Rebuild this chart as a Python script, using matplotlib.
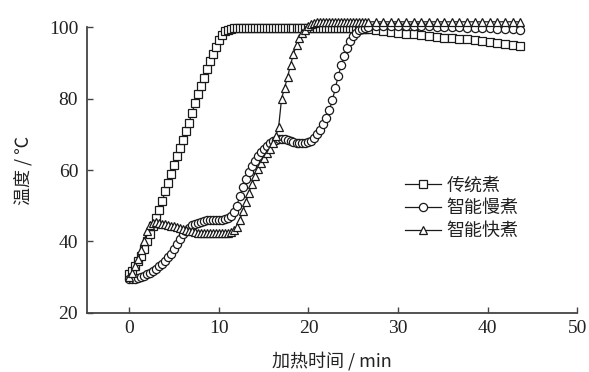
import matplotlib
matplotlib.use("Agg")
import matplotlib.pyplot as plt

plt.rcParams['font.family'] = ['Liberation Serif', 'Noto Sans CJK SC', 'DejaVu Sans']

# shared fine time grid (min) for the first ~27 min
t_fine = [0, 0.33, 0.67, 1, 1.33, 1.67, 2, 2.33, 2.67, 3, 3.33, 3.67, 4, 4.33, 4.67, 5, 5.33, 5.67,
          6, 6.33, 6.67, 7, 7.33, 7.67, 8, 8.33, 8.67, 9, 9.33, 9.67, 10, 10.33, 10.67, 11, 11.33, 11.67,
          12, 12.33, 12.67, 13, 13.33, 13.67, 14, 14.33, 14.67, 15, 15.33, 15.67, 16, 16.33, 16.67,
          17, 17.33, 17.67, 18, 18.33, 18.67, 19, 19.33, 19.67, 20, 20.33, 20.67, 21, 21.33, 21.67,
          22, 22.33, 22.67, 23, 23.33, 23.67, 24, 24.33, 24.67, 25, 25.33, 25.67, 26, 26.33, 26.67]

# 传统煮 (traditional)
y_trad_fine = [31, 31.8, 33, 34.5, 36, 37.8, 40, 42, 44.2, 46.5, 48.8, 51.2, 54, 56.3, 58.8, 61.5, 63.8, 66.2,
               68.5, 70.8, 73.3, 76, 78.7, 81.2, 83.5, 85.8, 88.2, 90.5, 92.5, 94.5, 96.5, 97.8, 98.8, 99.3, 99.6, 99.7,
               99.8, 99.8, 99.8, 99.8, 99.8, 99.8, 99.8, 99.8, 99.8, 99.8, 99.8, 99.8, 99.8, 99.8, 99.8,
               99.8, 99.8, 99.8, 99.8, 99.8, 99.8, 99.8, 99.8, 99.8, 99.8, 99.8, 99.8, 99.8, 99.8, 99.8,
               99.8, 99.8, 99.8, 99.8, 99.8, 99.8, 99.7, 99.7, 99.7, 99.7, 99.6, 99.6, 99.6, 99.5, 99.5]
t_trad_late = [27.5, 28.35, 29.2, 30.05, 30.9, 31.75, 32.6, 33.45, 34.3, 35.15, 36, 36.85, 37.7,
               38.55, 39.4, 40.25, 41.1, 41.95, 42.8, 43.65]
y_trad_late = [99.3, 98.9, 98.6, 98.3, 98.2, 98.0, 97.8, 97.6, 97.3, 97.1, 97.0, 96.8, 96.6,
               96.3, 96.1, 95.9, 95.7, 95.4, 95.1, 94.8]

# 智能慢煮 (smart slow)
y_slow_fine = [29.5, 29.4, 29.5, 29.8, 30, 30.3, 30.8, 31.2, 31.8, 32.3, 33, 33.7, 34.5, 35.5, 36.6, 38, 39.3, 40.7,
               42, 43, 43.8, 44.5, 44.9, 45.2, 45.5, 45.7, 45.9, 46, 46, 46, 46, 46.1, 46.3, 46.5, 47.1, 48.2,
               50, 52.6, 55.2, 57.5, 59.5, 61.2, 62.5, 63.9, 65.1, 66, 66.8, 67.5, 68, 68.4, 68.6,
               68.7, 68.6, 68.3, 68, 67.8, 67.7, 67.6, 67.6, 67.7, 67.8, 68.2, 69, 70, 71.3, 72.8,
               74.5, 76.8, 79.5, 83, 86.3, 89.5, 92, 94.3, 96.2, 97.5, 98.5, 99.2, 99.6, 99.9, 100.1]
t_slow_late = [27.5, 28.35, 29.2, 30.05, 30.9, 31.75, 32.6, 33.45, 34.3, 35.15, 36, 36.85, 37.7,
               38.55, 39.4, 40.25, 41.1, 41.95, 42.8, 43.65]
y_slow_late = [100.3, 100.3, 100.3, 100.3, 100.3, 100.2, 100.2, 100.2, 100.1, 100.1, 100.0, 100.0, 99.9,
               99.8, 99.8, 99.7, 99.6, 99.5, 99.4, 99.2]

# 智能快煮 (smart fast)
y_fast_fine = [30, 31.2, 33, 35, 37.5, 40.2, 43, 44.5, 45.3, 45.5, 45.2, 45, 44.8, 44.6, 44.4, 44.2, 44, 43.8,
               43.5, 43.2, 43, 42.8, 42.6, 42.5, 42.5, 42.5, 42.5, 42.5, 42.5, 42.5, 42.5, 42.5, 42.5, 42.5, 42.7, 43.2,
               44, 46, 48.5, 51, 53.5, 56, 58.2, 60.2, 62, 63.5, 64.8, 66, 67.5, 69.5, 72,
               80, 83, 86, 89.5, 92.5, 95, 97, 98.3, 99.3, 100.3, 101, 101.3, 101.5, 101.5, 101.5,
               101.5, 101.5, 101.5, 101.5, 101.5, 101.5, 101.5, 101.5, 101.5, 101.5, 101.5, 101.5, 101.5, 101.5, 101.5]
t_fast_late = [27.5, 28.35, 29.2, 30.05, 30.9, 31.75, 32.6, 33.45, 34.3, 35.15, 36, 36.85, 37.7,
               38.55, 39.4, 40.25, 41.1, 41.95, 42.8, 43.65]
y_fast_late = [101.5, 101.5, 101.5, 101.5, 101.5, 101.5, 101.5, 101.5, 101.5, 101.5, 101.5, 101.5, 101.5,
               101.5, 101.5, 101.5, 101.5, 101.5, 101.5, 101.5]

labels = ['传统煮', '智能慢煮', '智能快煮']
x_ticks = [0, 10, 20, 30, 40, 50]
y_ticks = [20, 40, 60, 80, 100]

fig = plt.figure(figsize=(5.89, 3.72), dpi=100)
ax = fig.add_axes([0.148, 0.159, 0.832, 0.768])

kw = dict(color='#1a1a1a', lw=0.9, markersize=5.9, markerfacecolor='white',
          markeredgecolor='#1a1a1a', markeredgewidth=0.9, clip_on=False)
ax.plot(t_fine + t_trad_late, y_trad_fine + y_trad_late, marker='s', label=labels[0], **kw)
ax.plot(t_fine + t_slow_late, y_slow_fine + y_slow_late, marker='o', label=labels[1], **kw)
ax.plot(t_fine + t_fast_late, y_fast_fine + y_fast_late, marker='^', label=labels[2], **kw)

ax.set_xlim(-4.7, 50)
ax.set_ylim(20, 100)
ax.set_xticks(x_ticks)
ax.set_yticks(y_ticks)
for s in ['top', 'right']:
    ax.spines[s].set_visible(False)
for s in ['left', 'bottom']:
    ax.spines[s].set_color('#444444')
    ax.spines[s].set_linewidth(1.3)
ax.tick_params(direction='in', length=4, width=1.0, colors='#444444', labelcolor='#222222', labelsize=14)
ax.tick_params(axis='y', pad=6.5)
ax.tick_params(axis='x', pad=5)

cjk = ['Noto Sans CJK SC', 'DejaVu Sans']
ax.set_xlabel('加热时间 / min', fontsize=13, family=cjk, labelpad=10.5, color='#222222')
ax.set_ylabel('温度 / ℃', fontsize=13, family=cjk, labelpad=12, color='#222222')

leg = ax.legend(loc='upper left', bbox_to_anchor=(0.688, 0.525), bbox_transform=fig.transFigure,
                frameon=False, prop={'family': cjk, 'size': 13},
                handlelength=2.0, handletextpad=0.3, labelspacing=0.26, borderpad=0, borderaxespad=0)
for t in leg.get_texts():
    t.set_color('#222222')

fig.savefig('out.png', dpi=100)
